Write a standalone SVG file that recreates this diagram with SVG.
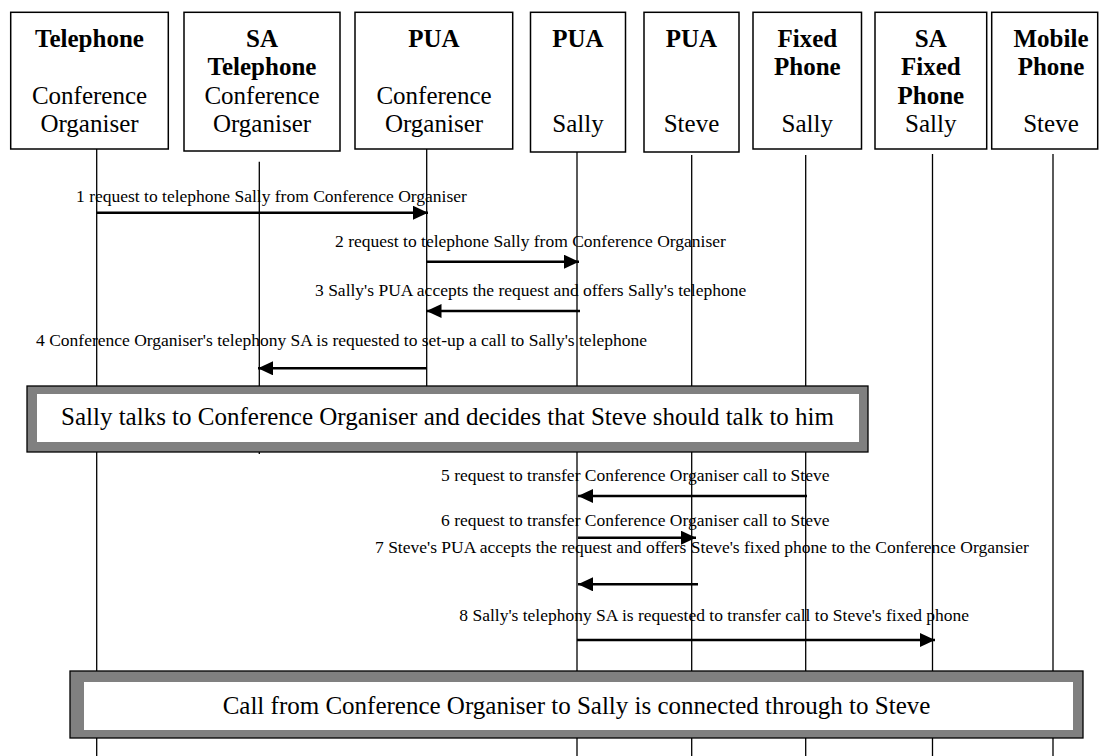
<svg xmlns="http://www.w3.org/2000/svg" width="1099" height="756" viewBox="0 0 1099 756">
<style>
.box{fill:#fff;stroke:#000;stroke-width:1.5}
.ht{font-family:"Liberation Serif","Times New Roman",serif;font-size:25px;text-anchor:middle;fill:#000}
.b{font-weight:bold}
.life{stroke:#000;stroke-width:1.3;fill:none}
.msg{stroke:#000;stroke-width:2.5;fill:none}
.lbl{font-family:"Liberation Serif","Times New Roman",serif;font-size:17.5px;fill:#000}
.bo{fill:#808080;stroke:#000;stroke-width:1.3}
.bi{fill:#fff;stroke:none}
.bt{font-family:"Liberation Serif","Times New Roman",serif;font-size:25px;text-anchor:middle;fill:#000}
</style>
<defs>
<marker id="ah" viewBox="0 0 15 14" refX="15" refY="7" markerWidth="15" markerHeight="14" markerUnits="userSpaceOnUse" orient="auto">
<path d="M0,0 L15,7 L0,14 Z" fill="#000"/>
</marker>
</defs>
<rect width="1099" height="756" fill="#fff"/>
<g id="lifelines">
<line class="life" x1="96.7" y1="149" x2="96.7" y2="756"/>
<line class="life" x1="259.3" y1="161.7" x2="259.3" y2="454"/>
<line class="life" x1="426.7" y1="149" x2="426.7" y2="440"/>
<line class="life" x1="577" y1="152" x2="577" y2="756"/>
<line class="life" x1="691.7" y1="155" x2="691.7" y2="756"/>
<line class="life" x1="805.7" y1="155" x2="805.7" y2="756"/>
<line class="life" x1="932.5" y1="154" x2="932.5" y2="756"/>
<line class="life" x1="1053" y1="154" x2="1053" y2="756"/>
</g>
<g id="n1"><rect class="box" x="10.7" y="12.3" width="157.6" height="136.7"/>
<text class="ht b" x="89.5" y="46.7">Telephone</text><text class="ht" x="89.5" y="103.7">Conference</text><text class="ht" x="89.5" y="132.2">Organiser</text></g>
<g id="n2"><rect class="box" x="184" y="12.3" width="156" height="138.7"/>
<text class="ht b" x="262" y="46.7">SA</text><text class="ht b" x="262" y="75.2">Telephone</text><text class="ht" x="262" y="103.7">Conference</text><text class="ht" x="262" y="132.2">Organiser</text></g>
<g id="n3"><rect class="box" x="355" y="12.3" width="157.7" height="136.7"/>
<text class="ht b" x="434" y="46.7">PUA</text><text class="ht" x="434" y="103.7">Conference</text><text class="ht" x="434" y="132.2">Organiser</text></g>
<g id="n4"><rect class="box" x="530.5" y="12.3" width="95" height="139.7"/>
<text class="ht b" x="578" y="46.7">PUA</text><text class="ht" x="578" y="132.2">Sally</text></g>
<g id="n5"><rect class="box" x="644" y="12.3" width="95" height="139.7"/>
<text class="ht b" x="691.5" y="46.7">PUA</text><text class="ht" x="691.5" y="132.2">Steve</text></g>
<g id="n6"><rect class="box" x="753" y="12.3" width="108.5" height="136.7"/>
<text class="ht b" x="807.3" y="46.7">Fixed</text><text class="ht b" x="807.3" y="75.2">Phone</text><text class="ht" x="807.3" y="132.2">Sally</text></g>
<g id="n7"><rect class="box" x="875" y="12.3" width="111.7" height="136.7"/>
<text class="ht b" x="930.8" y="46.7">SA</text><text class="ht b" x="930.8" y="75.2">Fixed</text><text class="ht b" x="930.8" y="103.7">Phone</text><text class="ht" x="930.8" y="132.2">Sally</text></g>
<g id="n8"><rect class="box" x="991.7" y="12.3" width="106" height="136.7"/>
<text class="ht b" x="1051" y="46.7">Mobile</text><text class="ht b" x="1051" y="75.2">Phone</text><text class="ht" x="1051" y="132.2">Steve</text></g>
<g id="connectors">
<line class="msg" x1="96.7" y1="212.7" x2="428" y2="212.7" marker-end="url(#ah)"/>
<text class="lbl" x="76" y="201.7">1 request to telephone Sally from Conference Organiser</text>
<line class="msg" x1="426.7" y1="261.7" x2="579" y2="261.7" marker-end="url(#ah)"/>
<text class="lbl" x="335" y="246.7">2 request to telephone Sally from Conference Organiser</text>
<line class="msg" x1="580" y1="311" x2="426.5" y2="311" marker-end="url(#ah)"/>
<text class="lbl" x="315" y="295.7">3 Sally's PUA accepts the request and offers Sally's telephone</text>
<line class="msg" x1="427" y1="368.3" x2="258" y2="368.3" marker-end="url(#ah)"/>
<text class="lbl" x="36" y="346">4 Conference Organiser's telephony SA is requested to set-up a call to Sally's telephone</text>
<line class="msg" x1="807" y1="496" x2="578" y2="496" marker-end="url(#ah)"/>
<text class="lbl" x="441" y="480.7">5 request to transfer Conference Organiser call to Steve</text>
<line class="msg" x1="578" y1="537.7" x2="696" y2="537.7" marker-end="url(#ah)"/>
<text class="lbl" x="441" y="526">6 request to transfer Conference Organiser call to Steve</text>
<line class="msg" x1="698" y1="584.3" x2="578" y2="584.3" marker-end="url(#ah)"/>
<text class="lbl" x="375" y="553.3">7 Steve's PUA accepts the request and offers Steve's fixed phone to the Conference Organsier</text>
<line class="msg" x1="577" y1="640" x2="935" y2="640" stroke-width="2" marker-end="url(#ah)"/>
<text class="lbl" x="459.3" y="620.7">8 Sally's telephony SA is requested to transfer call to Steve's fixed phone</text>
</g>
<g id="banner1">
<rect class="bo" x="27" y="386" width="841" height="66"/>
<rect class="bi" x="37" y="394" width="822" height="48"/>
<text class="bt" x="447.5" y="425">Sally talks to Conference Organiser and decides that Steve should talk to him</text>
</g>
<g id="banner2">
<rect class="bo" x="70" y="671" width="1013" height="67"/>
<rect class="bi" x="84" y="682" width="989" height="48"/>
<text class="bt" x="576.5" y="714">Call from Conference Organiser to Sally is connected through to Steve</text>
</g>
</svg>
